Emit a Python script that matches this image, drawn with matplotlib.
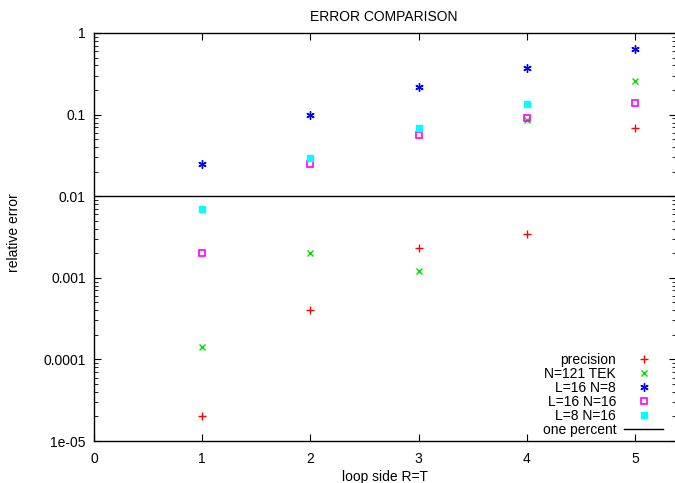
import numpy as np
import matplotlib
matplotlib.use("Agg")
import matplotlib.pyplot as plt
from matplotlib.ticker import LogLocator, FixedLocator, FuncFormatter

plt.rcParams['font.family'] = ['Liberation Sans', 'DejaVu Sans']
plt.rcParams['font.size'] = 10

# loop side R=T
loop = [1, 2, 3, 4, 5]
precision = [2.0e-5, 4.0e-4, 2.35e-3, 3.4e-3, 0.068]
tek121 = [1.4e-4, 2.0e-3, 1.2e-3, 0.087, 0.26]
l16n8 = [0.025, 0.098, 0.215, 0.37, 0.63]
l16n16 = [2.0e-3, 0.025, 0.056, 0.092, 0.137]
l8n16_x = [1, 2, 3, 4]
l8n16 = [7.0e-3, 0.029, 0.068, 0.135]
one_percent = 0.01

yticks = [1e-5, 1e-4, 1e-3, 1e-2, 1e-1, 1]
ylabels = ['1e-05', '0.0001', '0.001', '0.01', '0.1', '1']

fig = plt.figure(figsize=(6.75, 4.83), dpi=100)
ax = fig.add_axes([94/675, 1 - 441/483, (675 - 94)/675 + 0.002, (441 - 33)/483])

asterisk = (6, 2, 0)
ax.plot(loop, precision, ls='none', marker='+', color='#ff0000', ms=6, mew=1, label='precision')
ax.plot(loop, tek121, ls='none', marker='x', color='#00e000', ms=5, mew=1, label='N=121 TEK')
ax.plot(loop, l16n8, ls='none', marker=asterisk, color='#0000ff', ms=6, mew=1, label='L=16 N=8')
ax.plot(loop, l16n16, ls='none', marker='s', mfc='none', mec='#ff00ff', ms=5, mew=1.2, label='L=16 N=16')
ax.plot(l8n16_x, l8n16, ls='none', marker='s', color='#00ffff', ms=5, label='L=8 N=16')
ax.axhline(one_percent, color='black', lw=1, label='one percent')

ax.set_yscale('log')
ax.set_ylim(1e-5, 1)
ax.set_xlim(0, 5.38)
ax.yaxis.set_major_locator(FixedLocator(yticks))
ax.yaxis.set_major_formatter(FuncFormatter(lambda v, p: ylabels[yticks.index(v)] if v in yticks else ''))
ax.yaxis.set_minor_locator(LogLocator(base=10, subs=np.arange(2, 10)))
ax.set_xticks([0, 1, 2, 3, 4, 5])
ax.tick_params(which='both', direction='in', top=True, right=True)
ax.tick_params(which='major', length=5, width=0.8)
ax.tick_params(which='minor', length=3, width=0.6)
ax.tick_params(axis='y', pad=6)
ax.tick_params(axis='x', pad=8)
for s in ax.spines.values():
    s.set_linewidth(1)

ax.set_xlabel('loop side R=T', labelpad=3)
ax.set_ylabel('relative error')
ax.yaxis.set_label_coords(-0.125, 0.51)
fig.text(384/675, 1 - 21/483, 'ERROR COMPARISON', ha='center', va='baseline')

ax.legend(loc='lower right', bbox_to_anchor=(0.9845, 0.0), frameon=False, markerfirst=False,
          handlelength=2.8, handletextpad=0.58, labelspacing=0.0, borderpad=0.1,
          borderaxespad=0.2)
for t in ax.get_legend().get_texts():
    t.set_ha('right')
ax.get_legend()._legend_box.align = 'right'

fig.savefig('out.png', dpi=100)
